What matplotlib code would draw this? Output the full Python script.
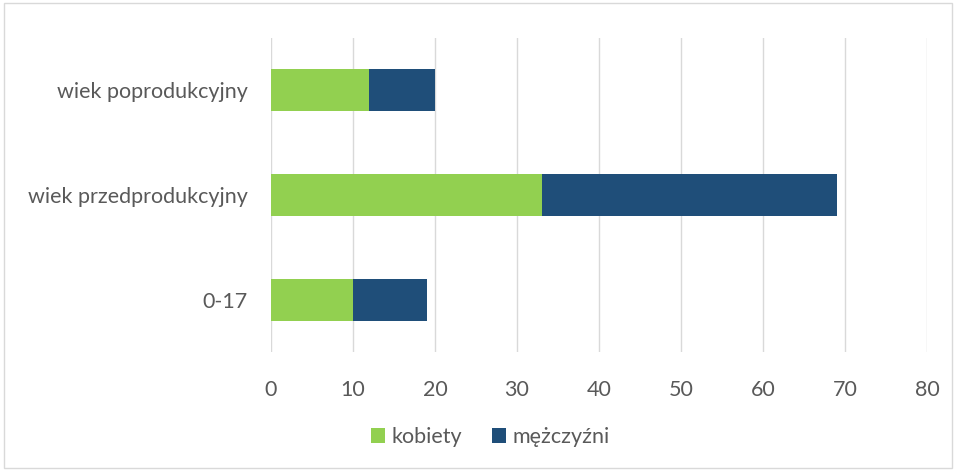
import matplotlib
matplotlib.use('Agg')
import matplotlib.pyplot as plt
from matplotlib.patches import Rectangle

# dane
kategorie = ['0-17', 'wiek przedprodukcyjny', 'wiek poprodukcyjny']
kobiety = [10, 33, 12]
mezczyzni = [9, 36, 8]
ticks = [0, 10, 20, 30, 40, 50, 60, 70, 80]

plt.rcParams['font.family'] = ['Lato', 'DejaVu Sans']
szary = '#595959'

fig = plt.figure(figsize=(9.56, 4.71), dpi=100)
ax = fig.add_axes([0.2835, 0.2527, 0.6862, 0.6666])

y = range(len(kategorie))
ax.barh(y, kobiety, height=0.4, color='#92D050', label='kobiety')
ax.barh(y, mezczyzni, left=kobiety, height=0.4, color='#1F4E79', label='mężczyźni')

ax.set_xlim(0, 80)
ax.set_ylim(-0.5, 2.5)
ax.set_xticks(ticks)
ax.set_xticklabels([str(t) for t in ticks])
ax.set_yticks(list(y))
ax.set_yticklabels(kategorie)
ax.grid(axis='x', color='#D9D9D9', linewidth=1)
ax.set_axisbelow(True)
for s in ax.spines.values():
    s.set_visible(False)
ax.tick_params(axis='both', length=0, labelsize=15.5, colors=szary)
ax.tick_params(axis='x', pad=20)
ax.tick_params(axis='y', pad=17)

leg = fig.legend(loc='center', bbox_to_anchor=(0.513, 0.072), ncol=2, frameon=False,
                 fontsize=15.5, handlelength=0.65, handleheight=0.65,
                 handletextpad=0.3, columnspacing=1.4)
for t in leg.get_texts():
    t.set_color(szary)

# ramka wykresu
fig.patches.append(Rectangle((0.004, 0.006), 0.992, 0.988, transform=fig.transFigure,
                             fill=False, edgecolor='#D9D9D9', linewidth=1))

fig.savefig('out.png', dpi=100)
